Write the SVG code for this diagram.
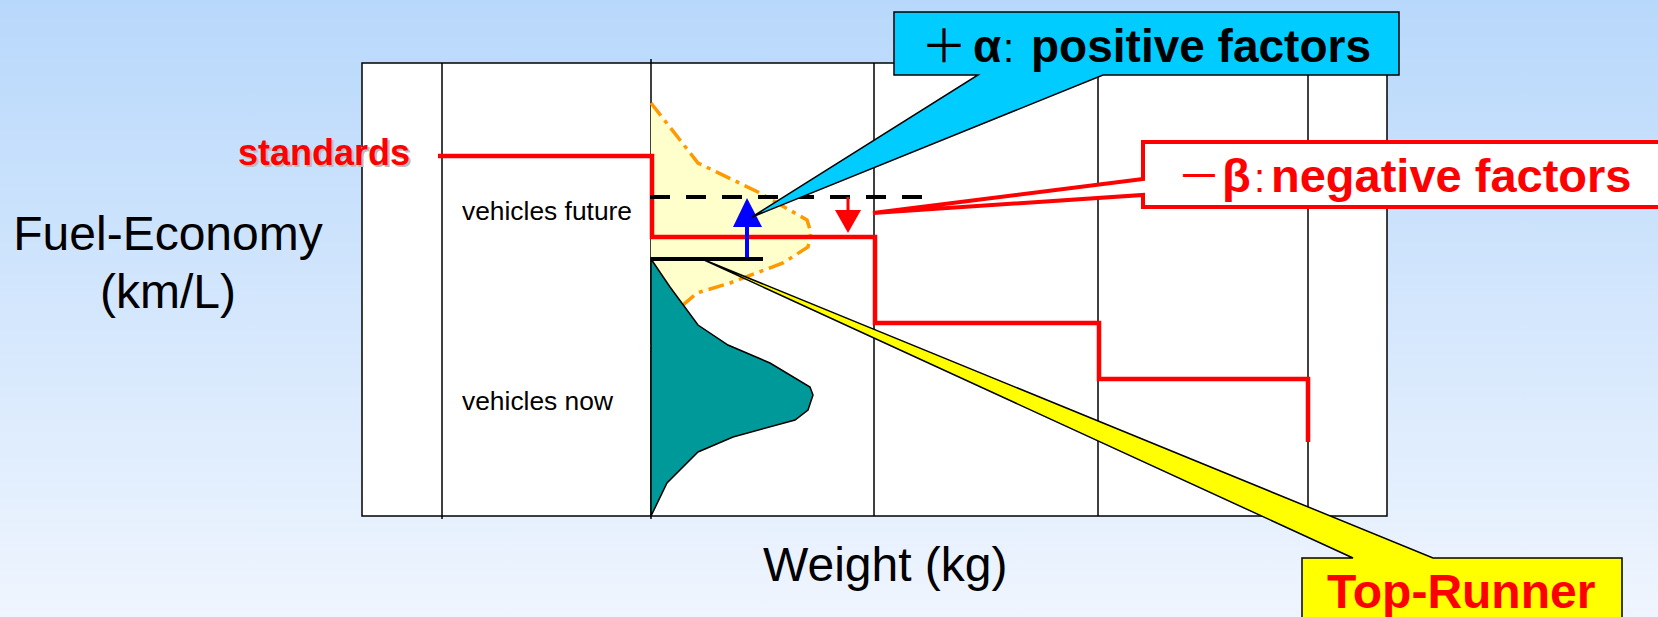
<svg xmlns="http://www.w3.org/2000/svg" width="1658" height="617" viewBox="0 0 1658 617">
<defs>
<linearGradient id="bg" x1="0" y1="0" x2="0" y2="1">
<stop offset="0" stop-color="#B8D8FB"/>
<stop offset="1" stop-color="#EFF5FE"/>
</linearGradient>
<style>
.ax{font-family:"Liberation Sans",Arial,sans-serif;font-size:48px;fill:#000}
.sm{font-family:"Liberation Sans",Arial,sans-serif;font-size:25px;fill:#000}
.bd{font-family:"Liberation Sans",Arial,sans-serif;font-weight:bold}
.cjk{font-family:"Noto Sans CJK JP",sans-serif;font-weight:normal}
.col{font-family:"Liberation Sans",Arial,sans-serif;font-weight:normal}
.grid{stroke:#000;stroke-width:1.5;fill:none}
.red{stroke:#FF0000;stroke-width:4.5;fill:none}
.call{stroke:#000;stroke-width:1.5}
</style>
</defs>
<rect x="0" y="0" width="1658" height="617" fill="url(#bg)"/>

<g id="chart">
<rect x="362" y="63" width="1025" height="453" fill="#FFFFFF" stroke="#000" stroke-width="1.5"/>
<line class="grid" x1="442" y1="63" x2="442" y2="519"/>
<line class="grid" x1="651" y1="59" x2="651" y2="519"/>
<line class="grid" x1="874" y1="63" x2="874" y2="516"/>
<line class="grid" x1="1098" y1="63" x2="1098" y2="516"/>
<line class="grid" x1="1308" y1="63" x2="1308" y2="516"/>
</g>

<g id="future-dist">
<path d="M651,103 L698,163 L760,193 L807,220 L811,233 L808,247 L783,263 L730,283 L697,293 L683,305 L651,347 Z" fill="#FFFFCC" stroke="none"/>
<path d="M651,103 L698,163 L760,193 L807,220 L811,233 L808,247 L783,263 L730,283 L697,293 L683,305 L651,347" fill="none" stroke="#FF9900" stroke-width="3.5" stroke-dasharray="16 6 4 6"/>
</g>

<g id="now-dist">
<path d="M651,259 L670,287 L698,325 L728,345 L770,363 L810,387 L813,395 L808,410 L795,420 L733,437 L698,452 L667,483 L652,514 L651,516 Z" fill="#009999" stroke="#000" stroke-width="1.5"/>
</g>

<g id="connectors">
<path id="standards-line" class="red" d="M438,156 H652 V237 H875 V323 H1099 V379 H1308 V442"/>
<line id="future-line" x1="650" y1="197" x2="922" y2="197" stroke="#000" stroke-width="4" stroke-dasharray="20 16"/>
<line id="toprunner-line" x1="651" y1="259" x2="763" y2="259" stroke="#000" stroke-width="4"/>
<g id="alpha-arrow">
<line x1="747" y1="257" x2="747" y2="222" stroke="#0000FF" stroke-width="4"/>
<polygon points="733,227 747,198 762,227" fill="#0000FF"/>
</g>
<g id="beta-arrow">
<line x1="848" y1="197" x2="848" y2="214" stroke="#FF0000" stroke-width="3"/>
<polygon points="835,210 861,210 848,233" fill="#FF0000"/>
</g>
</g>

<g id="callout-alpha">
<path class="call" d="M894,12 H1399 V75 H1103 L752,217 L978,75 H894 Z" fill="#00CCFF"/>
<text class="cjk" font-size="46" fill="#000" x="921" y="62">＋</text>
<text class="bd" font-size="46" fill="#000" x="973" y="62">α</text>
<text class="col" font-size="40" fill="#000" x="1003" y="62">:</text>
<text class="bd" font-size="46" fill="#000" x="1031" y="62">positive factors</text>
</g>

<g id="callout-beta">
<path d="M1143,142 H1668 V207 H1143 V195 L873,213 L1143,179 Z" fill="#FFFFFF" stroke="#FF0000" stroke-width="4"/>
<text class="cjk" font-size="44" fill="#FF0000" x="1177" y="192">－</text>
<text class="bd" font-size="47" fill="#FF0000" x="1222" y="192">β</text>
<text class="col" font-size="40" fill="#FF0000" x="1254" y="192">:</text>
<text class="bd" font-size="47" fill="#FF0000" x="1271" y="192">negative factors</text>
</g>

<g id="callout-toprunner">
<path class="call" d="M1302,630 V558 H1353 L702,259 L1433,558 H1622 V630" fill="#FFFF00"/>
<text class="bd" font-size="48" fill="#FF0000" x="1327" y="608">Top-Runner</text>
</g>

<g id="labels">
<text class="bd" font-size="36" fill="#BBBBBB" x="240" y="167">standards</text>
<text class="bd" font-size="36" fill="#FF0000" x="238" y="165">standards</text>
<text class="sm" x="462" y="220" textLength="170" lengthAdjust="spacingAndGlyphs">vehicles future</text>
<text class="sm" x="462" y="410" textLength="151" lengthAdjust="spacingAndGlyphs">vehicles now</text>
<text class="ax" x="168" y="250" text-anchor="middle">Fuel-Economy</text>
<text class="ax" x="168" y="308" text-anchor="middle">(km/L)</text>
<text class="ax" x="763" y="581">Weight (kg)</text>
</g>
</svg>
